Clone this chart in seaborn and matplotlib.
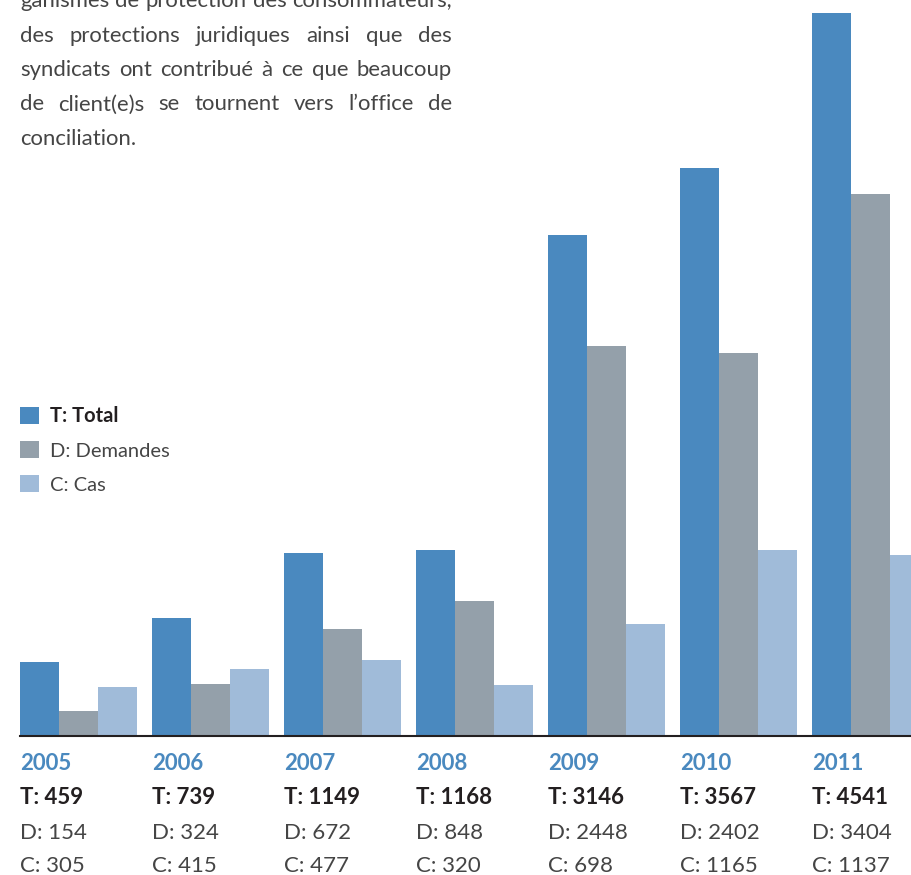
import pandas as pd
import matplotlib
matplotlib.use('Agg')
import matplotlib.pyplot as plt
import matplotlib.transforms as mtransforms
from matplotlib.patches import Patch
import seaborn as sns

# données
years = ['2005', '2006', '2007', '2008', '2009', '2010', '2011']
total = [459, 739, 1149, 1168, 3146, 3567, 4541]
demandes = [154, 324, 672, 848, 2448, 2402, 3404]
cas = [305, 415, 477, 320, 698, 1165, 1137]

series_names = ['T: Total', 'D: Demandes', 'C: Cas']
colors = ['#4a89bf', '#94a0aa', '#a0bbd9']

paragraph = [
    'ganismes de protection des consommateurs,',
    'des protections juridiques ainsi que des',
    'syndicats ont contribué à ce que beaucoup',
    'de client(e)s se tournent vers l’office de',
    'conciliation.',
]

W, H = 912, 875
FONT = ['Lato', 'DejaVu Sans']
TXT = '#454545'

sns.set_style('white')
plt.rcParams['font.family'] = FONT

df = pd.DataFrame({
    'annee': years * 3,
    'serie': [series_names[0]] * 7 + [series_names[1]] * 7 + [series_names[2]] * 7,
    'valeur': total + demandes + cas,
})

fig = plt.figure(figsize=(W / 100, H / 100), dpi=100)
base_px = 735.5
ax = fig.add_axes([20 / W, (H - base_px) / H, (W - 20) / W, base_px / H])

group_w = 117 / 132
sns.barplot(data=df, x='annee', y='valeur', hue='serie', hue_order=series_names,
            palette=colors, width=group_w, saturation=1, linewidth=0,
            errorbar=None, legend=False, ax=ax)

ax.set_xlim(-group_w / 2, -group_w / 2 + (W - 20) / 132)
ax.set_ylim(0, max(total) * base_px / (base_px - 13))
ax.set_xticks([])
ax.set_yticks([])
ax.set_xlabel('')
ax.set_ylabel('')
sns.despine(ax=ax, left=True)
ax.spines['bottom'].set_color('#231f20')
ax.spines['bottom'].set_linewidth(1.5)

# étiquettes sous chaque groupe
trans = mtransforms.blended_transform_factory(ax.transData, fig.transFigure)
for i, yr in enumerate(years):
    x = i - group_w / 2
    ax.text(x, 1 - 770 / H, yr, transform=trans, fontsize=16, fontweight='bold',
            color='#4a89bf', va='baseline', ha='left')
    ax.text(x, 1 - 804.5 / H, f'T: {total[i]}', transform=trans, fontsize=16,
            fontweight='bold', color='#231f20', va='baseline', ha='left')
    ax.text(x, 1 - 839 / H, f'D: {demandes[i]}', transform=trans, fontsize=16,
            fontweight='normal', color=TXT, va='baseline', ha='left')
    ax.text(x, 1 - 872 / H, f'C: {cas[i]}', transform=trans, fontsize=16,
            fontweight='normal', color=TXT, va='baseline', ha='left')

# légende
handles = [Patch(facecolor=c, edgecolor='none') for c in colors]
leg = ax.legend(handles, series_names, loc='upper left',
                bbox_to_anchor=(20 / W, 1 - 406 / H), bbox_transform=fig.transFigure,
                frameon=False, fontsize=14.5, handlelength=0.93, handleheight=0.93,
                handletextpad=0.56, labelspacing=0.76, borderpad=0, borderaxespad=0)
for k, t in enumerate(leg.get_texts()):
    if k == 0:
        t.set_fontweight('bold')
        t.set_color('#231f20')
    else:
        t.set_fontweight('normal')
        t.set_color(TXT)

# paragraphe justifié en haut
renderer = fig.canvas.get_renderer()
x0, x1 = 20, 452


def text_width(s, fs):
    t = fig.text(0, 0, s, fontsize=fs, fontweight='normal')
    w = t.get_window_extent(renderer).width
    t.remove()
    return w


# taille de police : la ligne la plus longue tient dans la colonne
widest = max(text_width(l, 10) for l in paragraph[:-1])
fs = 10 * (x1 - x0) / widest
space_w = text_width('a a', fs) - text_width('aa', fs)
baselines = [7, 41.5, 76, 110.5, 145]
for n, (line, yb) in enumerate(zip(paragraph, baselines)):
    words = line.split(' ')
    widths = [text_width(w, fs) for w in words]
    last = n == len(paragraph) - 1
    if not last and len(words) > 1:
        gap = (x1 - x0 - sum(widths)) / (len(words) - 1)
    else:
        gap = space_w
    x = x0
    for w, wd in zip(words, widths):
        fig.text(x / W, 1 - yb / H, w, fontsize=fs, fontweight='normal',
                 color=TXT, va='baseline', ha='left')
        x += wd + gap

fig.savefig('out.png', dpi=100)
